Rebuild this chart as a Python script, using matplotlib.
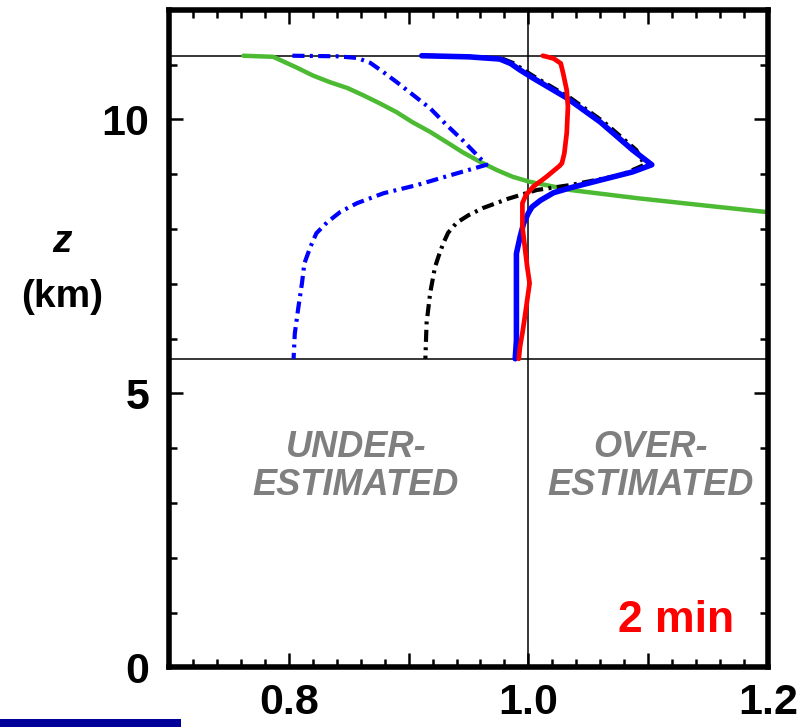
import matplotlib
matplotlib.use("Agg")
import matplotlib.pyplot as plt
from matplotlib.ticker import MultipleLocator, FixedLocator, FixedFormatter
from matplotlib.patches import Rectangle

plt.rcParams['font.family'] = ['Liberation Sans', 'DejaVu Sans']

# ---------------- data ----------------
green_x = [0.762, 0.787, 0.793, 0.807, 0.820, 0.834, 0.849, 0.862, 0.876, 0.890, 0.903, 0.918,
           0.932, 0.945, 0.960, 0.974, 0.987, 1.001, 1.035, 1.091, 1.146, 1.202]
green_z = [11.16, 11.14, 11.08, 10.94, 10.80, 10.68, 10.57, 10.44, 10.29, 10.13, 9.95, 9.77,
           9.58, 9.40, 9.22, 9.07, 8.95, 8.86, 8.71, 8.56, 8.43, 8.30]

bdd_x = [0.803, 0.840, 0.857, 0.868, 0.879, 0.890, 0.904, 0.918, 0.932, 0.945, 0.957, 0.965,
         0.935, 0.907, 0.879, 0.857, 0.843, 0.832, 0.823, 0.818, 0.813, 0.811, 0.808, 0.805, 0.804]
bdd_z = [11.16, 11.15, 11.12, 11.03, 10.86, 10.68, 10.44, 10.20, 9.89, 9.62, 9.35, 9.17,
         8.98, 8.80, 8.65, 8.47, 8.31, 8.12, 7.92, 7.67, 7.37, 7.01, 6.57, 6.09, 5.63]

blue_x = [0.911, 0.950, 0.976, 0.985, 0.993, 1.004, 1.032, 1.060, 1.087, 1.103, 1.087, 1.060,
          1.035, 1.021, 1.010, 1.003, 1.000, 0.996, 0.993, 0.990, 0.990, 0.990, 0.990, 0.989]
blue_z = [11.16, 11.14, 11.10, 11.02, 10.90, 10.75, 10.39, 9.95, 9.44, 9.17, 9.04, 8.89,
          8.75, 8.66, 8.52, 8.40, 8.29, 8.10, 7.85, 7.55, 7.01, 6.39, 5.97, 5.63]

black_x = [0.914, 0.953, 0.979, 0.988, 0.996, 1.007, 1.035, 1.063, 1.090, 1.097, 1.077, 1.056,
           1.035, 1.007, 0.983, 0.962, 0.950, 0.940, 0.933, 0.929, 0.925, 0.922, 0.918, 0.915, 0.914]
black_z = [11.16, 11.14, 11.10, 11.02, 10.90, 10.75, 10.39, 9.95, 9.44, 9.17, 8.98, 8.89,
           8.80, 8.71, 8.55, 8.38, 8.25, 8.11, 7.93, 7.74, 7.50, 7.30, 6.83, 6.28, 5.63]

red_x = [1.012, 1.021, 1.027, 1.029, 1.032, 1.033, 1.032, 1.030, 1.028, 1.026, 1.015, 1.004,
         0.998, 0.995, 0.995, 0.997, 0.999, 1.001, 0.999, 0.997, 0.995, 0.993, 0.992]
red_z = [11.16, 11.11, 11.02, 10.84, 10.53, 10.23, 9.75, 9.38, 9.20, 9.15, 8.95, 8.77,
         8.62, 8.47, 8.04, 7.67, 7.31, 7.01, 6.70, 6.39, 6.10, 5.85, 5.63]

hlines_z = [11.16, 5.63]
vline_x = 1.0

xticks = [0.7, 0.8, 0.9, 1.0, 1.1, 1.2]
xticklabels = ['', '0.8', '', '1.0', '', '1.2']
yticks = [0, 5, 10]
yticklabels = ['0', '5', '10']

# ---------------- figure ----------------
W, H = 798, 727
fig = plt.figure(figsize=(W / 100, H / 100), dpi=100)
ax = fig.add_axes([169 / W, (H - 667.3) / H, 599 / W, 657.6 / H])
ax.set_xlim(0.7, 1.2)
ax.set_ylim(0, 12)

for z in hlines_z:
    ax.axhline(z, color='black', lw=1.1, zorder=1)
ax.axvline(vline_x, color='black', lw=1.1, zorder=1)

dd = (2.9, 1.3, 0.7, 1.3)
common = dict(solid_joinstyle='round', solid_capstyle='round')
ax.plot(green_x, green_z, color='#4cbb33', lw=3.2, zorder=2, **common)
ax.plot(black_x, black_z, color='black', lw=3.0, dashes=dd, zorder=3, dash_joinstyle='round')
ax.plot(bdd_x, bdd_z, color='#0000ff', lw=3.0, dashes=dd, zorder=4, dash_joinstyle='round')
ax.plot(blue_x, blue_z, color='#0000ff', lw=4.0, zorder=5, **common)
ax.plot(red_x, red_z, color='#ff0000', lw=3.4, zorder=6, **common)

for s in ax.spines.values():
    s.set_linewidth(4.0)

ax.xaxis.set_major_locator(FixedLocator(xticks))
ax.xaxis.set_major_formatter(FixedFormatter(xticklabels))
ax.xaxis.set_minor_locator(MultipleLocator(0.02))
ax.yaxis.set_major_locator(FixedLocator(yticks))
ax.yaxis.set_major_formatter(FixedFormatter(yticklabels))
ax.yaxis.set_minor_locator(MultipleLocator(1))

ax.tick_params(which='both', direction='in', top=True, right=True, width=1.8)
ax.tick_params(which='major', length=10)
ax.tick_params(which='minor', length=6)
ax.tick_params(axis='x', which='major', pad=11, labelsize=31)
ax.tick_params(axis='y', which='major', pad=14, labelsize=31)
for lab in ax.get_xticklabels() + ax.get_yticklabels():
    lab.set_fontweight('bold')

txtkw = dict(color='#7f7f7f', fontsize=26, fontweight='bold', fontstyle='italic',
             ha='center', va='center', linespacing=1.1)
ax.text(0.856, 3.66, 'UNDER-\nESTIMATED', **txtkw)
ax.text(1.102, 3.66, 'OVER-\nESTIMATED', **txtkw)
ax.text(1.123, 0.845, '2 min', color='#ff0000', fontsize=32, fontweight='bold',
        ha='center', va='center')

fig.text(62 / W, 1 - 242 / H, 'z', fontsize=28, fontweight='bold', fontstyle='italic',
         ha='center', va='center')
fig.text(62 / W, 1 - 297 / H, '(km)', fontsize=28, fontweight='bold',
         ha='center', va='center')

fig.patches.append(Rectangle((0, 0), 181 / W, 8 / H, transform=fig.transFigure,
                             facecolor='#000099', edgecolor='none', zorder=10))

fig.savefig('out.png', dpi=100)
